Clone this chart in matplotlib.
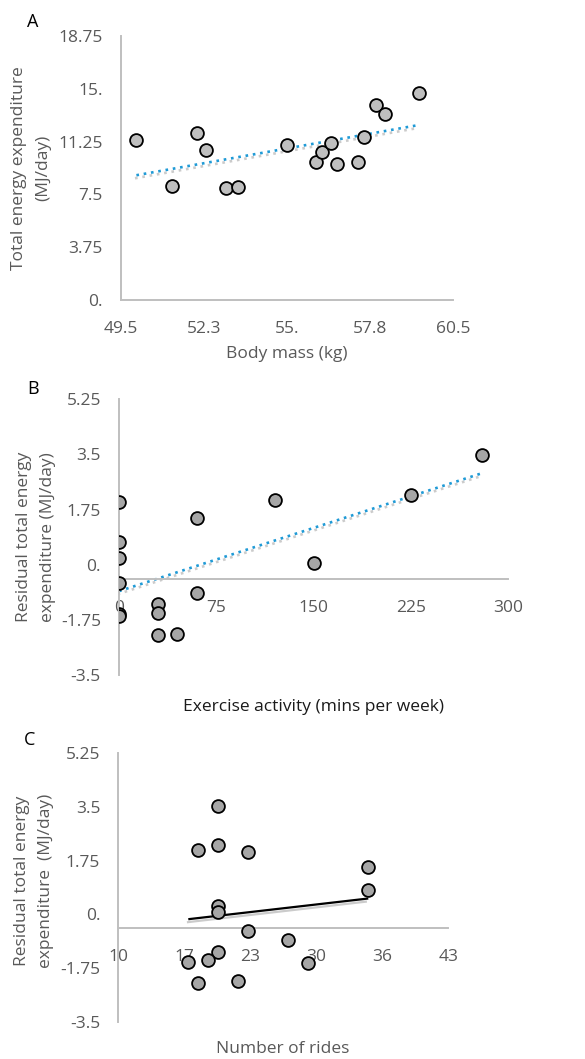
import numpy as np
import matplotlib
matplotlib.use("Agg")
import matplotlib.pyplot as plt
import matplotlib.patheffects as pe

plt.rcParams["font.family"] = ["Open Sans", "DejaVu Sans"]

# Panel A: body mass vs total energy expenditure
mass_kg = [50.02, 51.2, 52.01, 52.31, 53.0, 53.39, 54.99, 55.98, 56.17, 56.46,
           56.66, 57.35, 57.55, 57.95, 58.24, 59.36]
tee_mj = [11.34, 8.12, 11.84, 10.67, 7.98, 8.03, 10.99, 9.78, 10.51, 11.15,
          9.66, 9.80, 11.58, 13.85, 13.21, 14.68]
a_xticks = [49.5, 52.25, 55.0, 57.75, 60.5]
a_xlabels = ["49.5", "52.3", "55.", "57.8", "60.5"]
a_yticks = [0, 3.75, 7.5, 11.25, 15, 18.75]
a_ylabels = ["0.", "3.75", "7.5", "11.25", "15.", "18.75"]

# Panel B: exercise activity vs residual TEE
exercise_min = [0, 0, 0, 0, 0, 0, 30, 30, 30, 45, 60, 60, 120, 150, 225, 280]
resid_b = [1.98, 0.73, 0.22, -0.58, -1.56, -1.63, -1.25, -1.52, -2.24, -2.2,
           1.49, -0.89, 2.05, 0.06, 2.21, 3.49]
b_xticks = [0, 75, 150, 225, 300]
b_xlabels = ["0", "75", "150", "225", "300"]

# Panel C: number of rides vs residual TEE
rides = [20, 18, 20, 23, 35, 35, 20, 20, 23, 27, 20, 17, 19, 29, 18, 22]
resid_c = [3.54, 2.10, 2.25, 2.03, 1.55, 0.78, 0.28, 0.09, -0.54, -0.85,
           -1.22, -1.55, -1.48, -1.60, -2.23, -2.16]
c_xticks = [10, 16.6, 23.2, 29.8, 36.4, 43]
c_xlabels = ["10", "17", "23", "30", "36", "43"]

resid_yticks = [-3.5, -1.75, 0, 1.75, 3.5, 5.25]
resid_ylabels = ["-3.5", "-1.75", "0.", "1.75", "3.5", "5.25"]

W, H = 585, 1059
FS = 12.5
GRAY_TXT = "#595959"
AXIS_C = "#bfbfbf"


def px_axes(fig, left, right, top, bottom):
    return fig.add_axes([left / W, 1 - bottom / H, (right - left) / W, (bottom - top) / H])


def ftext(fig, x, y, s, **kw):
    # place text using pixel coords from the top-left corner
    kw.setdefault("fontsize", FS)
    kw.setdefault("ha", "center")
    kw.setdefault("va", "center")
    return fig.text(x / W, 1 - y / H, s, **kw)


def style(ax, xticks, xlabels, yticks, ylabels, xcross):
    for s in ["top", "right"]:
        ax.spines[s].set_visible(False)
    for s in ["left", "bottom"]:
        ax.spines[s].set_color(AXIS_C)
        ax.spines[s].set_linewidth(1.4)
    ax.spines["bottom"].set_position(("data", xcross))
    ax.set_xticks(xticks)
    ax.set_xticklabels(xlabels)
    ax.set_yticks(yticks)
    ax.set_yticklabels(ylabels)
    ax.tick_params(axis="both", length=0, labelsize=FS, labelcolor=GRAY_TXT)
    ax.tick_params(axis="y", pad=13)
    ax.tick_params(axis="x", pad=15)


def trend(ax, x, y, **kw):
    k, b = np.polyfit(x, y, 1)
    xs = np.array([min(x), max(x)])
    ax.plot(xs, k * xs + b, zorder=2, solid_capstyle="butt",
            path_effects=[pe.SimpleLineShadow(offset=(-1, -2.2), shadow_color="#999999", alpha=0.5),
                          pe.Normal()], **kw)


fig = plt.figure(figsize=(W / 100, H / 100), dpi=100)

dot_style = dict(color="#1f9ad6", linewidth=1.9, linestyle=(0, (1, 1.8)))
ylab_kw = dict(color=GRAY_TXT, rotation=90, linespacing=1.7)

# A
ax = px_axes(fig, 120.7, 453, 36, 300)
ax.set_xlim(49.5, 60.5)
ax.set_ylim(0, 18.75)
style(ax, a_xticks, a_xlabels, a_yticks, a_ylabels, 0)
trend(ax, mass_kg, tee_mj, **dot_style)
ax.scatter(mass_kg, tee_mj, s=85, facecolor="#bfbfbf", edgecolor="black", linewidth=1.3, zorder=3)
ftext(fig, 287, 354, "Body mass (kg)", color=GRAY_TXT)
ftext(fig, 31, 168, "Total energy expenditure\n(MJ/day)", **ylab_kw)
ftext(fig, 33, 22, "A", fontsize=13)

# B
ax = px_axes(fig, 119, 508.3, 399.3, 675)
ax.set_xlim(0, 300)
ax.set_ylim(-3.5, 5.25)
style(ax, b_xticks, b_xlabels, resid_yticks, resid_ylabels, -0.46)
trend(ax, exercise_min, resid_b, **dot_style)
ax.scatter(exercise_min, resid_b, s=85, facecolor="#a6a6a6", edgecolor="black", linewidth=1.3, zorder=3)
ftext(fig, 36, 537, "Residual total energy\nexpenditure (MJ/day)", **ylab_kw)
ftext(fig, 313.6, 707, "Exercise activity (mins per week)", color="#1a1a1a")
ftext(fig, 33, 389, "B", fontsize=13)

# C
ax = px_axes(fig, 118.3, 448.3, 753.3, 1021.7)
ax.set_xlim(10, 43)
ax.set_ylim(-3.5, 5.25)
style(ax, c_xticks, c_xlabels, resid_yticks, resid_ylabels, -0.46)
trend(ax, rides, resid_c, color="black", linewidth=1.6)
ax.scatter(rides, resid_c, s=85, facecolor="#a6a6a6", edgecolor="black", linewidth=1.3, zorder=3)
ftext(fig, 34, 881, "Residual total energy\nexpenditure  (MJ/day)", **ylab_kw)
ftext(fig, 283, 1049, "Number of rides", color=GRAY_TXT)
ftext(fig, 30, 740, "C", fontsize=13)

fig.savefig("out.png", dpi=100)
